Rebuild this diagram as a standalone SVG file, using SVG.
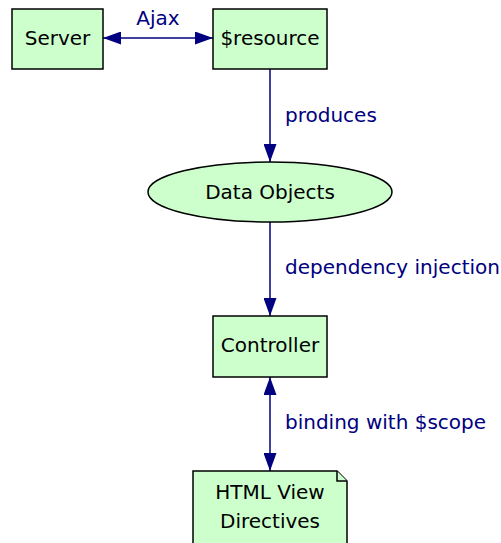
<svg xmlns="http://www.w3.org/2000/svg" width="501" height="543" viewBox="0 0 501 543">
<style>
.n{fill:#ccffcc;stroke:#000;stroke-width:1.5}
.t{font-family:"DejaVu Sans",Verdana,sans-serif;font-size:20px;fill:#000;text-anchor:middle}
.l{font-family:"DejaVu Sans",Verdana,sans-serif;font-size:20px;fill:#000080}
.e{stroke:#000080;stroke-width:1.5;fill:none}
</style>
<defs>
<marker id="ah" viewBox="0 0 18 13" refX="18" refY="6.5" markerWidth="18" markerHeight="13" markerUnits="userSpaceOnUse" orient="auto-start-reverse">
<path d="M0,0 L18,6.5 L0,13 Z" fill="#000080"/>
</marker>
</defs>
<rect width="501" height="543" fill="#fff"/>
<g id="edges">
<line class="e" x1="103" y1="38" x2="213" y2="38" marker-start="url(#ah)" marker-end="url(#ah)"/>
<text class="l" x="158" y="25" text-anchor="middle">Ajax</text>
<line class="e" x1="270" y1="69" x2="270" y2="162" marker-end="url(#ah)"/>
<text class="l" x="285" y="122">produces</text>
<line class="e" x1="270" y1="222" x2="270" y2="316" marker-end="url(#ah)"/>
<text class="l" x="285" y="274">dependency injection</text>
<line class="e" x1="270" y1="377" x2="270" y2="471" marker-start="url(#ah)" marker-end="url(#ah)"/>
<text class="l" x="285" y="429">binding with $scope</text>
</g>
<g id="server">
<rect class="n" x="12" y="9" width="91" height="60"/>
<text class="t" x="57.5" y="45">Server</text>
</g>
<g id="resource">
<rect class="n" x="213" y="9" width="114" height="60"/>
<text class="t" x="270" y="45">$resource</text>
</g>
<g id="dataobjects">
<ellipse class="n" cx="270" cy="192" rx="122" ry="30"/>
<text class="t" x="270" y="199">Data Objects</text>
</g>
<g id="controller">
<rect class="n" x="213" y="316" width="114" height="61"/>
<text class="t" x="270" y="352">Controller</text>
</g>
<g id="htmlview">
<path class="n" d="M193,471 H337 L347,481 V545 H193 Z"/>
<path class="n" d="M337,471 V481 H347" fill="none"/>
<text class="t" x="270" y="499">HTML View</text>
<text class="t" x="270" y="528">Directives</text>
</g>
</svg>
